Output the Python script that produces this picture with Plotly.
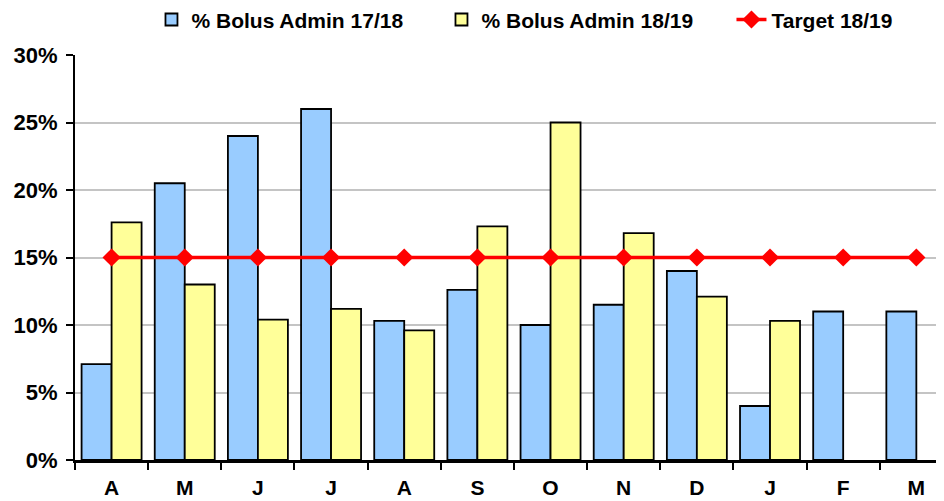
import plotly.graph_objects as go

months = ["A", "M", "J", "J", "A", "S", "O", "N", "D", "J", "F", "M"]
bolus_1718 = [7.1, 20.5, 24.0, 26.0, 10.3, 12.6, 10.0, 11.5, 14.0, 4.0, 11.0, 11.0]
bolus_1819 = [17.6, 13.0, 10.4, 11.2, 9.6, 17.3, 25.0, 16.8, 12.1, 10.3, None, None]
target_1819 = [15, 15, 15, 15, 15, 15, 15, 15, 15, 15, 15, 15]
y_ticks = [0, 5, 10, 15, 20, 25, 30]

x = list(range(len(months)))
FONT = "Liberation Sans, Arial, sans-serif"

fig = go.Figure()
fig.add_trace(go.Bar(x=x, y=bolus_1718, name="% Bolus Admin 17/18",
                     marker=dict(color="#99ccff", line=dict(color="black", width=1.8))))
fig.add_trace(go.Bar(x=x, y=bolus_1819, name="% Bolus Admin 18/19",
                     marker=dict(color="#ffff99", line=dict(color="black", width=1.8))))
fig.add_trace(go.Scatter(x=x, y=target_1819, name="Target 18/19", mode="lines+markers",
                         line=dict(color="#ff0000", width=3.3),
                         marker=dict(symbol="diamond", size=14, color="#ff0000")))

# page body has an 8px margin, so the figure is sized/placed to compensate
fig.update_layout(
    width=936, height=493,
    margin=dict(l=67, r=0, t=47, b=41, autoexpand=False),
    plot_bgcolor="white", paper_bgcolor="white",
    barmode="group", bargap=0.18, bargroupgap=0,
    font=dict(family=FONT, size=21, color="black", weight="bold"),
    legend=dict(orientation="h", x=0.088, xanchor="left", y=0.976, yanchor="middle",
                yref="container", font=dict(size=21, family=FONT, weight="bold"),
                traceorder="normal", bgcolor="rgba(0,0,0,0)", entrywidth=245),
    showlegend=True,
)
fig.update_xaxes(
    range=[-0.5, 11.378], tickvals=x, ticktext=months, ticks="", showgrid=False,
    showline=True, linecolor="black", linewidth=2.5, automargin=False,
    minor=dict(tickvals=[i - 0.5 for i in range(13)], ticks="outside", ticklen=7,
               tickcolor="black", tickwidth=1.5, showgrid=False),
    tickfont=dict(size=21, family=FONT, weight="bold"),
    ticklabelstandoff=7,
)
fig.update_yaxes(
    range=[0, 30], tickvals=y_ticks, ticktext=[f"{v}%" for v in y_ticks],
    showgrid=True, gridcolor="#c4c4c4", gridwidth=1.5, automargin=False,
    showline=True, linecolor="black", linewidth=2,
    ticks="outside", ticklen=7, tickcolor="black", tickwidth=1.5,
    tickfont=dict(size=22, family=FONT, weight="bold"), zeroline=False,
    ticklabelstandoff=4,
)

fig.write_html("out.html")
